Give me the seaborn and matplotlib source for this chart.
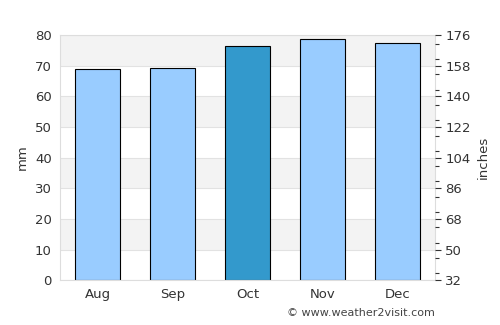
import matplotlib
matplotlib.use("Agg")
import matplotlib.pyplot as plt
import seaborn as sns
import pandas as pd
from matplotlib.ticker import MultipleLocator

months = ["Aug", "Sep", "Oct", "Nov", "Dec"]
rain_mm = [68.8, 69.1, 76.6, 78.6, 77.3]
highlight = "Oct"
right_ticks = [32, 50, 68, 86, 104, 122, 140, 158, 176]

df = pd.DataFrame({"month": months, "mm": rain_mm})
palette = {m: ("#3399cc" if m == highlight else "#99ccff") for m in months}

sns.set_style("white")
plt.rcParams["font.family"] = ["DejaVu Sans"]
text_col = "#333333"

fig, ax = plt.subplots(figsize=(5, 3.25), dpi=100)
fig.subplots_adjust(left=0.12, right=0.87, top=0.892, bottom=0.138)

# alternating horizontal bands
for lo in range(0, 80, 10):
    if (lo // 10) % 2 == 1:
        ax.axhspan(lo, lo + 10, color="#f3f3f3", zorder=0, lw=0)
ax.yaxis.grid(True, color="#e2e2e2", lw=0.8)
ax.set_axisbelow(True)

sns.barplot(data=df, x="month", y="mm", hue="month", palette=palette,
            legend=False, width=0.6, edgecolor="black", linewidth=0.8,
            saturation=1, ax=ax, zorder=2)

ax.set_ylim(0, 80)
ax.set_xlim(-0.5, 4.5)
ax.yaxis.set_major_locator(MultipleLocator(10))
ax.set_xlabel("")
ax.set_ylabel("mm", color=text_col, fontsize=9.5)
ax.tick_params(axis="both", length=0, labelsize=9.5, colors=text_col, pad=6)
for s in ax.spines.values():
    s.set_color("#dddddd")
    s.set_linewidth(0.8)

ax2 = ax.twinx()
ax2.set_ylim(32, 176)
ax2.set_yticks(right_ticks)
ax2.yaxis.set_minor_locator(MultipleLocator(9))
ax2.tick_params(axis="y", which="major", length=4, width=0.8,
                color="#333333", labelsize=9.5, labelcolor=text_col)
ax2.tick_params(axis="y", which="minor", length=3, width=0.8, color="#333333")
ax2.set_ylabel("inches", color=text_col, fontsize=9.5)
for s in ax2.spines.values():
    s.set_visible(False)

fig.text(0.87, 0.02, "© www.weather2visit.com", ha="right", va="bottom",
         fontsize=8, color="#444444")

fig.savefig("out.png", dpi=100)
